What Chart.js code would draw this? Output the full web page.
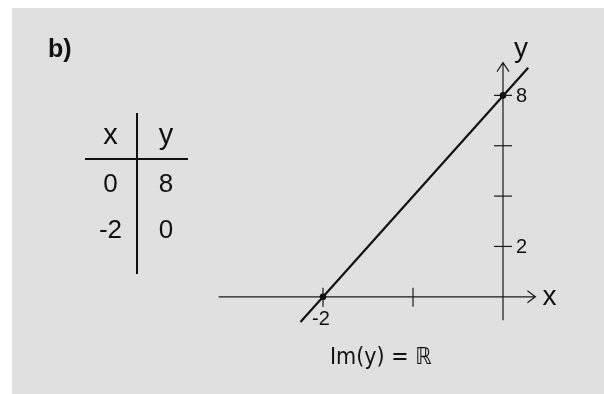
<!DOCTYPE html>
<html>
<head>
<meta charset="utf-8">
<script src="https://cdn.jsdelivr.net/npm/chart.js@4.4.0/dist/chart.umd.min.js"></script>
<style>
    body { margin: 0; background: #ffffff; }
    #panel { position: absolute; left: 12px; top: 8px; right: 0; bottom: 0; background: #e0e0e0; }
    #graph { position: absolute; left: 0; top: 0; }
    #label { position: absolute; left: 48px; top: 34px; font: bold 25px "Liberation Sans", Arial, sans-serif; color: #111; }
    #range { position: absolute; left: 330px; top: 343px; font: 23px "DejaVu Sans Condensed", "DejaVu Sans", sans-serif; color: #111; }
    #values { position: absolute; left: 85px; top: 113px; border-collapse: collapse; font-family: "Liberation Sans", Arial, sans-serif; color: #111; }
    #values td { padding: 0; text-align: center; }
    #values td.x { width: 51px; border-right: 2px solid #111; }
    #values td.y { width: 44px; padding-left: 6px; }
    #values tr.head td { height: 43px; border-bottom: 2px solid #111; font-size: 29px; vertical-align: middle; padding-bottom: 2px; }
    #values tr.row td { height: 46px; font-size: 26px; }
    #values tr.tail td { height: 22px; }
</style>
</head>
<body>
<div id="panel"></div>
<canvas id="graph" width="604" height="394"></canvas>
<div id="label">b)</div>
<table id="values">
    <tr class="head"><td class="x">x</td><td class="y">y</td></tr>
    <tr class="row"><td class="x">0</td><td class="y">8</td></tr>
    <tr class="row"><td class="x">-2</td><td class="y">0</td></tr>
    <tr class="tail"><td class="x"></td><td class="y"></td></tr>
</table>
<div id="range">Im(y) = ℝ</div>
<script>
// value table of y = 4x + 8
var tableX = [0, -2];
var tableY = [8, 0];

// ends of the drawn line
var lineX = [-2.25, 0.28];
var lineY = [-1, 9.1];

// axis ticks and which ones get a label
var xTicks = [-2, -1];
var xTickLabels = ["-2", ""];
var yTicks = [2, 4, 6, 8];
var yTickLabels = ["2", "", "", "8"];

// how far each axis line reaches
var xAxisFrom = -3.16, xAxisTo = 0.36;
var yAxisFrom = -0.93, yAxisTo = 9.3;

/**
 * Draws both axes through the origin with ticks, arrows and names
 */
var crossAxes = {
    id: "crossAxes",
    beforeDatasetsDraw: function (chart) {
        var ctx = chart.ctx;
        var sx = chart.scales.x;
        var sy = chart.scales.y;
        var ox = sx.getPixelForValue(0);
        var oy = sy.getPixelForValue(0);

        ctx.save();
        ctx.strokeStyle = "#1a1a1a";
        ctx.lineWidth = 1.2;

        // x axis with arrow
        var xEnd = sx.getPixelForValue(xAxisTo);
        ctx.beginPath();
        ctx.moveTo(sx.getPixelForValue(xAxisFrom), oy);
        ctx.lineTo(xEnd, oy);
        ctx.moveTo(xEnd - 8, oy - 6);
        ctx.lineTo(xEnd, oy);
        ctx.lineTo(xEnd - 8, oy + 6);
        ctx.stroke();

        // y axis with arrow
        var yEnd = sy.getPixelForValue(yAxisTo);
        ctx.beginPath();
        ctx.moveTo(ox, sy.getPixelForValue(yAxisFrom));
        ctx.lineTo(ox, yEnd);
        ctx.moveTo(ox - 6, yEnd + 9);
        ctx.lineTo(ox, yEnd);
        ctx.lineTo(ox + 6, yEnd + 9);
        ctx.stroke();

        ctx.fillStyle = "#111";
        ctx.font = '20px "Liberation Sans", Arial, sans-serif';

        // x ticks cross the axis, labels sit underneath
        ctx.textAlign = "center";
        ctx.textBaseline = "top";
        xTicks.forEach(function (v, i) {
            var px = sx.getPixelForValue(v);
            ctx.beginPath();
            ctx.moveTo(px, oy - 9);
            ctx.lineTo(px, oy + 10);
            ctx.stroke();
            if (xTickLabels[i])
                ctx.fillText(xTickLabels[i], px - 2, oy + 13);
        });

        // y ticks, labels to the right
        ctx.textAlign = "left";
        ctx.textBaseline = "middle";
        yTicks.forEach(function (v, i) {
            var py = sy.getPixelForValue(v);
            ctx.beginPath();
            ctx.moveTo(ox - 9, py);
            ctx.lineTo(ox + 9, py);
            ctx.stroke();
            if (yTickLabels[i])
                ctx.fillText(yTickLabels[i], ox + 13, py + 1);
        });

        // axis names
        ctx.font = '28px "Liberation Sans", Arial, sans-serif';
        ctx.textAlign = "left";
        ctx.textBaseline = "alphabetic";
        ctx.fillText("x", xEnd + 7, oy + 8);
        ctx.fillText("y", ox + 11, yEnd - 6);
        ctx.restore();
    }
};

document.addEventListener("DOMContentLoaded", event => {
    var linePoints = lineX.map((x, i) => ({ x: x, y: lineY[i] }));
    var tablePoints = tableX.map((x, i) => ({ x: x, y: tableY[i] }));

    new Chart(document.getElementById("graph"), {
        type: "scatter",
        data: {
            datasets: [{
                label: "y = 4x + 8",
                data: linePoints,
                showLine: true,
                borderColor: "#111",
                borderWidth: 2.2,
                pointRadius: 0,
                fill: false
            }, {
                label: "table",
                data: tablePoints,
                backgroundColor: "#111",
                borderColor: "#111",
                pointRadius: 3
            }]
        },
        options: {
            responsive: false,
            animation: false,
            layout: {
                padding: { left: 215, right: 47, top: 40, bottom: 67 }
            },
            scales: {
                x: { type: "linear", min: -3.2, max: 0.6, display: false },
                y: { type: "linear", min: -1.2, max: 10.2, display: false }
            },
            plugins: {
                legend: { display: false },
                tooltip: { enabled: false }
            }
        },
        plugins: [crossAxes]
    });
});
</script>
</body>
</html>
